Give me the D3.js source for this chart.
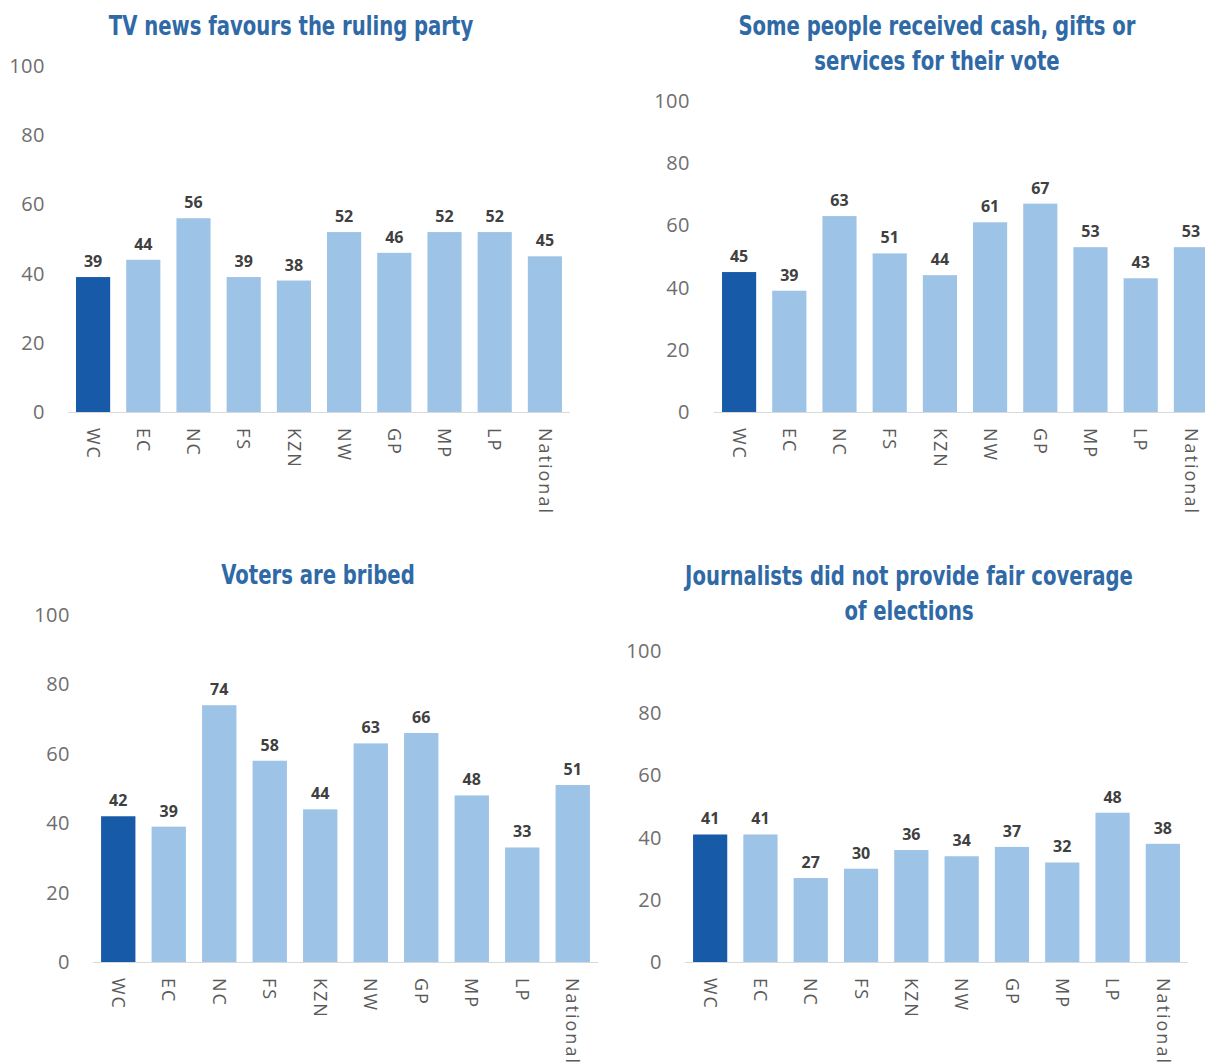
<!DOCTYPE html>
<html>
<head>
<meta charset="utf-8">
<script src="https://cdn.jsdelivr.net/npm/d3@7"></script>
<style>
  body { margin: 0; background: #fff; }
  svg { display: block; }
</style>
</head>
<body>
<script>
// provinces, same order in every panel
var categories = ["WC", "EC", "NC", "FS", "KZN", "NW", "GP", "MP", "LP", "National"];
var yTicks = [0, 20, 40, 60, 80, 100];

var tvNews = [39, 44, 56, 39, 38, 52, 46, 52, 52, 45];
var cashGifts = [45, 39, 63, 51, 44, 61, 67, 53, 43, 53];
var votersBribed = [42, 39, 74, 58, 44, 63, 66, 48, 33, 51];
var journalists = [41, 41, 27, 30, 36, 34, 37, 32, 48, 38];

var titles = [
  ["TV news favours the ruling party"],
  ["Some people received cash, gifts or", "services for their vote"],
  ["Voters are bribed"],
  ["Journalists did not provide fair coverage", "of elections"]
];

// where each panel sits on the page
var panels = [
  {values: tvNews,       title: titles[0], tx: 291, ty: 35,  x0: 68,  x1: 570,  base: 412, top: 66,  labelX: 45},
  {values: cashGifts,    title: titles[1], tx: 937, ty: 35,  x0: 714, x1: 1216, base: 412, top: 101, labelX: 690},
  {values: votersBribed, title: titles[2], tx: 318, ty: 584, x0: 93,  x1: 598,  base: 962, top: 615, labelX: 70},
  {values: journalists,  title: titles[3], tx: 909, ty: 585, x0: 685, x1: 1188, base: 962, top: 651, labelX: 662}
];

var W = 1205, H = 1064;
var svg = d3.select("body").append("svg")
    .attr("width", W)
    .attr("height", H);

panels.forEach(function(p) {
  var g = svg.append("g");

  var x = d3.scaleBand()
      .domain(categories)
      .range([p.x0, p.x1])
      .paddingInner(0.32)
      .paddingOuter(0.16);

  var y = d3.scaleLinear()
      .domain([0, 100])
      .range([p.base, p.top]);

  // title - squeezed a bit sideways to look like the narrow original font
  g.append("text")
      .attr("transform", "translate(" + p.tx + "," + p.ty + ") scale(0.84,1)")
      .attr("text-anchor", "middle")
      .style("font-family", "'DejaVu Sans Condensed', sans-serif")
      .style("font-size", "26px")
      .style("font-weight", "bold")
      .style("fill", "#2f69a6")
      .selectAll("tspan")
      .data(p.title)
      .enter()
      .append("tspan")
        .attr("x", 0)
        .attr("dy", function(d, i) { return i == 0 ? 0 : 35; })
        .text(function(d) { return d; });

  // y axis, labels only
  var yAxis = g.append("g")
      .attr("transform", "translate(" + p.labelX + ",0)")
      .call(d3.axisLeft(y).tickValues(yTicks).tickSize(0).tickPadding(0));
  yAxis.select(".domain").remove();
  yAxis.selectAll("text")
      .style("font-family", "'Open Sans', sans-serif")
      .style("font-size", "20px")
      .style("letter-spacing", "0.5px")
      .style("fill", "#6e6e6e");

  // bars
  g.selectAll("rect.bar")
      .data(p.values)
      .enter()
      .append("rect")
        .attr("class", "bar")
        .attr("x", function(d, i) { return x(categories[i]); })
        .attr("width", x.bandwidth())
        .attr("y", function(d) { return y(d); })
        .attr("height", function(d) { return y(0) - y(d); })
        .style("fill", function(d, i) { return i == 0 ? "#175aa7" : "#9dc3e6"; });

  // baseline
  g.append("line")
      .attr("x1", p.x0)
      .attr("x2", Math.min(p.x1, W))
      .attr("y1", y(0) + 0.5)
      .attr("y2", y(0) + 0.5)
      .attr("stroke", "#d9d9d9");

  // value labels
  g.selectAll("text.val")
      .data(p.values)
      .enter()
      .append("text")
        .attr("class", "val")
        .attr("x", function(d, i) { return x(categories[i]) + x.bandwidth() / 2; })
        .attr("y", function(d) { return y(d) - 10; })
        .attr("text-anchor", "middle")
        .style("font-family", "'Open Sans', sans-serif")
        .style("font-size", "16px")
        .style("font-weight", "bold")
        .style("fill", "#404040")
        .text(function(d) { return d; });

  // category labels, rotated
  var xAxis = g.append("g")
      .attr("transform", "translate(0," + p.base + ")")
      .call(d3.axisBottom(x).tickSize(0).tickPadding(0));
  xAxis.select(".domain").remove();
  xAxis.selectAll("text")
      .attr("transform", "translate(0,16) rotate(90)")
      .attr("x", 0)
      .attr("y", 0)
      .attr("dy", "0.35em")
      .style("text-anchor", "start")
      .style("font-family", "'Open Sans', sans-serif")
      .style("font-size", "18px")
      .style("letter-spacing", "2px")
      .style("fill", "#5a5a5a");
});
</script>
</body>
</html>
